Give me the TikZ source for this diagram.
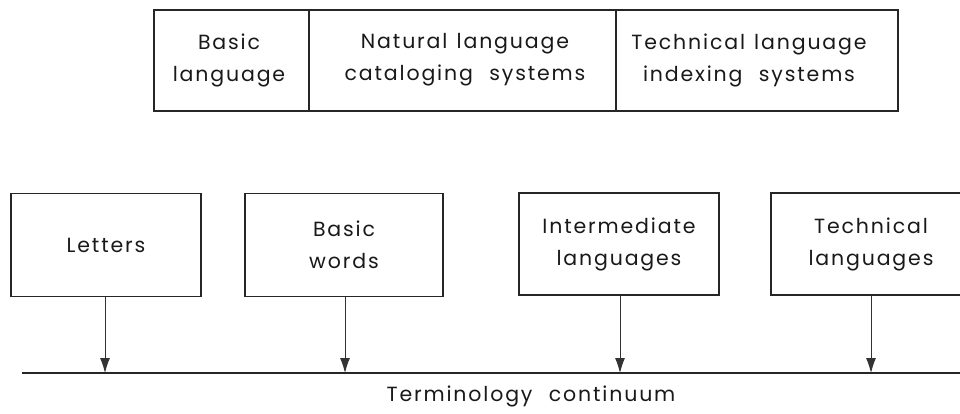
\documentclass[tikz,border=0pt]{standalone}
\usepackage{fontspec}
\setmainfont{Poppins}[LetterSpace=9]
\usetikzlibrary{arrows.meta}
\newcommand{\wsp}{\hspace{0.45em}}
\newcommand{\wwsp}{\hspace{0.8em}}
\begin{document}
\begin{tikzpicture}[x=1pt,y=-1pt,
  frame/.style={draw=black!85,line width=1.7pt},
  label/.style={font=\fontsize{20.5}{32}\selectfont,align=center,text=black!90},
  feed/.style={draw=black!80,line width=0.9pt,-{Latex[length=15pt,width=10pt]}}]
  \useasboundingbox (0,0) rectangle (960,414);

  % upper classification strip
  \draw[frame] (154,10) rectangle (898,111);
  \draw[frame] (309,10) -- (309,111);
  \draw[frame] (616,10) -- (616,111);
  \node[label] (basic)  at (229,60) {Basic\\language};
  \node[label] (nat)    at (465,60) {Natural\wsp language\\cataloging\wwsp systems};
  \node[label] (techl)  at (749,60) {Technical\wsp language\\indexing\wwsp systems};

  % lower terminology boxes
  \node[frame,label,minimum width=190pt,minimum height=103pt] (letters) at (106,245) {Letters};
  \node[frame,label,minimum width=198pt,minimum height=103pt] (words)   at (344,245) {Basic\\words};
  \node[frame,label,minimum width=200pt,minimum height=102pt] (inter)   at (619,244) {Intermediate\\languages};
  \node[frame,label,minimum width=200pt,minimum height=102pt] (tech)    at (871,244) {Technical\\languages};

  % continuum axis
  \coordinate (axL) at (22,373);
  \coordinate (axR) at (960,373);
  \draw[draw=black!85,line width=1.7pt] (axL) -- (axR);
  \foreach \n/\x in {letters/105,words/345,inter/620,tech/871}
    \draw[feed] (\x,0 |- \n.south) -- (\x,373);
  \node[label] (cont) at (531,396) {Terminology\wwsp continuum};
\end{tikzpicture}
\end{document}
